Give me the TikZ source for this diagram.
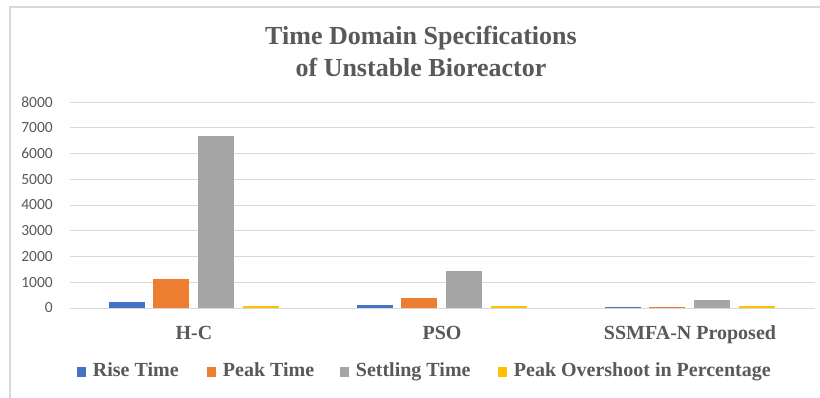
\documentclass[tikz,border=0pt]{standalone}
\usepackage{fontspec}
\setmainfont{Liberation Serif}
\newfontfamily\axisfont{Carlito}
\usetikzlibrary{positioning}

\definecolor{risecol}{HTML}{4472C4}
\definecolor{peakcol}{HTML}{ED7D31}
\definecolor{settlecol}{HTML}{A5A5A5}
\definecolor{overcol}{HTML}{FFC000}
\definecolor{gridgray}{HTML}{D9D9D9}
\definecolor{labelgray}{HTML}{595959}

\tikzset{
  frameline/.style={draw=gridgray, line width=1.2pt},
  gridline/.style={draw=gridgray, line width=0.8pt},
  bar/.style={fill=#1, draw=none},
  ticklabel/.style={anchor=east, inner sep=0pt, text=labelgray,
    font=\axisfont\fontsize{15.5}{18}\selectfont},
  catlabel/.style={anchor=base, inner sep=0pt, text=labelgray,
    font=\bfseries\fontsize{20}{24}\selectfont},
  legendkey/.style={fill=#1, minimum width=9pt, minimum height=10pt, inner sep=0pt},
  legendtext/.style={inner sep=0pt, text=labelgray, text height=13pt, text depth=4pt,
    font=\bfseries\fontsize{20}{24}\selectfont}
}

\begin{document}
\begin{tikzpicture}[x=1pt,y=-1pt]
\useasboundingbox (0,0) rectangle (820,398);
\fill[white] (0,0) rectangle (820,398);
% chart frame
\draw[frameline] (10,398) -- (10,7) -- (820,7);

% title
\node[text=labelgray, align=center, inner sep=0pt,
  font=\bfseries\fontsize{26}{32}\selectfont] (title) at (421,51)
  {Time Domain Specifications\\of Unstable Bioreactor};

% grid and axis values
\foreach \v in {0,...,8}{
  \draw[gridline] (70,{308-\v*25.75}) -- (815,{308-\v*25.75});
  \node[ticklabel] (tick\v) at (53,{308-\v*25.75}) {\the\numexpr\v*1000\relax};
}

% bars
\foreach \c/\r/\p/\s/\o in {194/230/1130/6670/60, 442/110/380/1450/60, 690/50/50/310/60}{
  \fill[bar=risecol]   ({\c-85},308) rectangle ({\c-49},{308-\r*0.02575});
  \fill[bar=peakcol]   ({\c-41},308) rectangle ({\c-5},{308-\p*0.02575});
  \fill[bar=settlecol] ({\c+4},308)  rectangle ({\c+40},{308-\s*0.02575});
  \fill[bar=overcol]   ({\c+49},308) rectangle ({\c+85},{308-\o*0.02575});
}

% categories
\node[catlabel] (hc) at (194,339) {H-C};
\node[catlabel] (pso) at (442,339) {PSO};
\node[catlabel] (ssmfa) at (690,339) {SSMFA-N Proposed};

% legend
\node[legendkey=risecol] (keyrise) at (81,372) {};
\node[legendtext, right=7pt of keyrise] (txtrise) {Rise Time};
\node[legendkey=peakcol] (keypeak) at (211,372) {};
\node[legendtext, right=7pt of keypeak] (txtpeak) {Peak Time};
\node[legendkey=settlecol] (keysettle) at (344,372) {};
\node[legendtext, right=7pt of keysettle] (txtsettle) {Settling Time};
\node[legendkey=overcol] (keyover) at (502,372) {};
\node[legendtext, right=7pt of keyover] (txtover) {Peak Overshoot in Percentage};
\end{tikzpicture}
\end{document}
